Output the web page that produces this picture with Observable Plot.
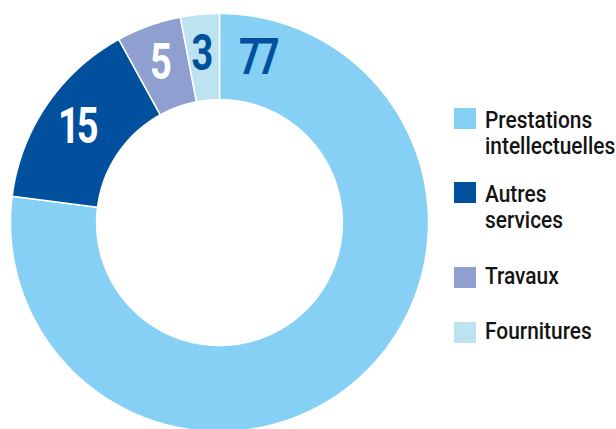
<!DOCTYPE html>
<html>
<head>
<meta charset="utf-8">
<script src="https://cdn.jsdelivr.net/npm/d3@7"></script>
<script src="https://cdn.jsdelivr.net/npm/@observablehq/plot@0.6"></script>
<style>
  html, body { margin: 0; padding: 0; background: #fff; }
  #wrap { position: relative; width: 616px; height: 429px; overflow: hidden; }
  .sw { position: absolute; width: 22px; height: 21px; }
  .lt { position: absolute; font-family: Roboto, "Liberation Sans", sans-serif;
        font-weight: 500; font-size: 24px; line-height: 26px; color: #141414; white-space: nowrap;
        transform: scaleX(0.87); transform-origin: 0 0; }
  .vlabel text { letter-spacing: -4px; }
</style>
</head>
<body>
<div id="wrap"></div>
<script>
// ---- data ----
const categories = ["Prestations intellectuelles", "Autres services", "Travaux", "Fournitures"];
const legendLines = [["Prestations", "intellectuelles"], ["Autres", "services"], ["Travaux"], ["Fournitures"]];
const values = [77, 15, 5, 3];

// ---- styles ----
const colors = ["#86d0f5", "#00509d", "#8e9fd0", "#bde3f0"];
const labelColors = ["#00509d", "#ffffff", "#ffffff", "#00509d"];
const innerR = 0.588;
const labelR = 0.81;

// ---- geometry ----
const total = d3.sum(values);
let acc = 0;
const slices = categories.map((c, i) => {
  const a0 = acc / total * 2 * Math.PI;
  acc += values[i];
  const a1 = acc / total * 2 * Math.PI;
  return {category: c, value: values[i], a0, a1, i};
});

const ringPts = [];
for (const s of slices) {
  const n = Math.max(4, Math.ceil((s.a1 - s.a0) / (Math.PI / 360)));
  const pts = [];
  for (let k = 0; k <= n; k++) {
    const a = s.a0 + (s.a1 - s.a0) * k / n;
    pts.push({x: Math.sin(a), y: Math.cos(a)});
  }
  for (let k = n; k >= 0; k--) {
    const a = s.a0 + (s.a1 - s.a0) * k / n;
    pts.push({x: innerR * Math.sin(a), y: innerR * Math.cos(a)});
  }
  for (const p of pts) ringPts.push({...p, category: s.category});
}

const labels = slices.map(s => {
  const a = s.i === 0 ? s.a0 + 0.245 : (s.a0 + s.a1) / 2;
  return {x: labelR * Math.sin(a), y: labelR * Math.cos(a), text: String(s.value), color: labelColors[s.i]};
});

const chart = Plot.plot({
  width: 616,
  height: 429,
  marginLeft: 10,
  marginRight: 188,
  marginTop: 13,
  marginBottom: 0,
  x: {domain: [-1, 1], axis: null},
  y: {domain: [-0.99, 1], axis: null},
  color: {domain: categories, range: colors},
  style: {background: "#fff"},
  marks: [
    Plot.line(ringPts, {x: "x", y: "y", z: "category", fill: "category", stroke: "#fff", strokeWidth: 1.5, curve: "linear-closed"}),
    Plot.text(labels, {x: "x", y: "y", text: "text", fill: "color", className: "vlabel", dx: -3,
      fontSize: 50, fontWeight: "bold", fontFamily: "Roboto, 'Liberation Sans', sans-serif"})
  ]
});
const wrap = document.getElementById("wrap");
wrap.appendChild(chart);

// condense the value labels horizontally around their centre
chart.querySelectorAll("text").forEach(el => {
  const b = el.getBBox();
  const cx = b.x + b.width / 2;
  const t = el.getAttribute("transform") || "";
  el.setAttribute("transform", `${t} translate(${cx},0) scale(0.76,1) translate(${-cx},0)`);
});

// ---- legend (HTML) ----
const swatchTops = [108, 182, 267, 322];
const baselines = [129.3, 203.3, 285, 340];
categories.forEach((c, i) => {
  const sw = document.createElement("div");
  sw.className = "sw";
  sw.style.left = "454px";
  sw.style.top = swatchTops[i] + "px";
  sw.style.background = colors[i];
  wrap.appendChild(sw);
  const t = document.createElement("div");
  t.className = "lt";
  t.style.left = "485px";
  t.style.top = (baselines[i] - 22) + "px";
  t.innerHTML = legendLines[i].join("<br>");
  wrap.appendChild(t);
});
</script>
</body>
</html>
